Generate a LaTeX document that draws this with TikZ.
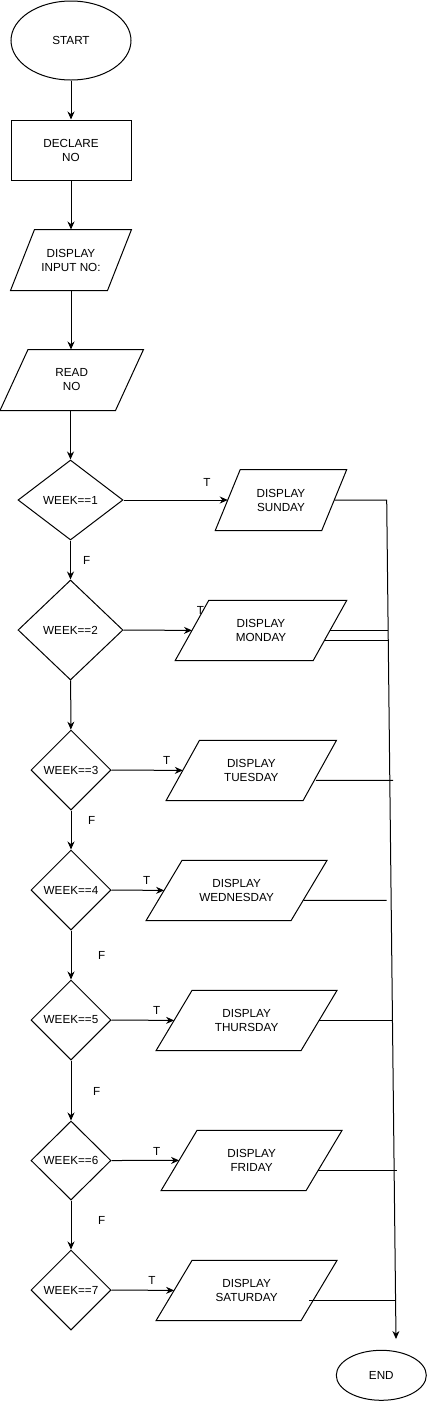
\documentclass[tikz,border=0pt]{standalone}
\usepackage{fontspec}
\setmainfont{Liberation Sans}
\usetikzlibrary{shapes.geometric,arrows.meta}
\newcommand\iobox[2]{\draw ([xshift=-#2pt]#1.south west) -- ([xshift=#2pt]#1.north west) -- ([xshift=#2pt]#1.north east) -- ([xshift=-#2pt]#1.south east) -- cycle;}
\begin{document}
\begin{tikzpicture}[x=1pt,y=-1pt,line width=1pt,
  every node/.style={font=\fontsize{11.7}{14}\selectfont, align=center},
  term/.style={draw, ellipse, inner sep=0pt},
  box/.style={draw, rectangle, inner sep=0pt, minimum width=120pt, minimum height=60pt},
  io/.style={rectangle, inner sep=0pt, minimum height=60pt},
  dec/.style={draw, diamond, inner sep=0pt},
  arr/.style={-{Stealth[length=8pt,width=7pt]}},
  lbl/.style={inner sep=0pt}]
\useasboundingbox (0,0) rectangle (428,1401);

% nodes
\node[term, minimum width=120pt, minimum height=79pt] (start) at (71,40.5) {START};
\node[box] (decl) at (71,150) {DECLARE\\NO};
\node[io, minimum width=96pt] (inp) at (71,260) {DISPLAY\\INPUT NO:};
\node[io, minimum width=114.5pt] (read) at (71.75,380) {READ\\NO};

\node[dec, minimum width=105pt, minimum height=80pt] (d1) at (70.5,500) {WEEK==1};
\node[dec, minimum width=105pt, minimum height=100pt] (d2) at (70.5,630) {WEEK==2};
\node[dec, minimum width=80pt, minimum height=80pt] (d3) at (71,770) {WEEK==3};
\node[dec, minimum width=80pt, minimum height=80pt] (d4) at (71,890) {WEEK==4};
\node[dec, minimum width=80pt, minimum height=80pt] (d5) at (71,1020) {WEEK==5};
\node[dec, minimum width=80pt, minimum height=79pt] (d6) at (71,1160.5) {WEEK==6};
\node[dec, minimum width=80pt, minimum height=80pt] (d7) at (71,1290) {WEEK==7};

\node[io, minimum width=105.5pt] (sun) at (281,500) {DISPLAY\\SUNDAY};
\node[io, minimum width=137pt, minimum height=59.3pt] (mon) at (261,630.4) {DISPLAY\\MONDAY};
\node[io, minimum width=136pt, minimum height=59.3pt] (tue) at (251.3,770.4) {DISPLAY\\TUESDAY};
\node[io, minimum width=144pt, minimum height=59.3pt] (wed) at (236.6,890.4) {DISPLAY\\WEDNESDAY};
\node[io, minimum width=144pt, minimum height=59.3pt] (thu) at (246.6,1020.4) {DISPLAY\\THURSDAY};
\node[io, minimum width=144pt, minimum height=59.3pt] (fri) at (251.6,1160.4) {DISPLAY\\FRIDAY};
\node[io, minimum width=144pt, minimum height=59.3pt] (sat) at (246.6,1290.4) {DISPLAY\\SATURDAY};

\node[term, minimum width=90pt, minimum height=50pt] (end) at (381.3,1375.3) {END};

% parallelogram outlines
\iobox{inp}{12}
\iobox{read}{14}
\iobox{sun}{12.5}
\iobox{mon}{16.8}
\iobox{tue}{16.7}
\iobox{wed}{18}
\iobox{thu}{18}
\iobox{fri}{18}
\iobox{sat}{18}

% main column
\draw[arr] (start) -- (decl);
\draw[arr] (decl) -- (inp);
\draw[arr] (inp.south) -- (inp.south |- read.north);
\draw[arr] (read.south -| d1.north) -- (d1.north);
\draw[arr] (d1) -- (d2);
\draw[arr] (d2) -- (d3);
\draw[arr] (d3) -- (d4);
\draw[arr] (d4) -- (d5);
\draw[arr] (d5) -- (d6);
\draw[arr] (d6) -- (d7);

% true branches
\draw[arr] (d1.east) -- (sun.west);
\draw[arr] (d2.east) -- (mon.west);
\draw[arr] (d3.east) -- (tue.west);
\draw[arr] (d4.east) -- (wed.west);
\draw[arr] (d5.east) -- (thu.west);
\draw[arr] (d6.east) -- (fri.west);
\draw[arr] (d7.east) -- (sat.west);

% collector line
\coordinate (vtop) at (386.7,500);
\coordinate (vbot) at (396,1339);
\draw[arr] (sun.east) -- (vtop) -- (vbot);
\coordinate (m1) at (387.5,630.4);
\coordinate (m2) at (387.5,640.7);
\coordinate (tu) at (393,780.3);
\coordinate (we) at (386.7,900.3);
\coordinate (th) at (392.7,1020.4);
\coordinate (fr) at (396.7,1170.7);
\coordinate (sa) at (396,1300.4);
\draw (mon.east) -- (m1);
\draw ([xshift=-5.8pt,yshift=-10.3pt]mon.east) -- (m2);
\draw ([xshift=-4pt,yshift=-9.9pt]tue.east) -- (tu);
\draw ([xshift=-5.5pt,yshift=-9.9pt]wed.east) -- (we);
\draw (thu.east) -- (th);
\draw ([xshift=-6.5pt,yshift=-10.3pt]fri.east) -- (fr);
\draw ([xshift=-10pt,yshift=-10pt]sat.east) -- (sa);

% labels
\node[lbl] (t1) at (207,482) {T};
\node[lbl] (t2) at (200.5,610) {T};
\node[lbl] (t3) at (166.7,760) {T};
\node[lbl] (t4) at (146.7,880) {T};
\node[lbl] (t5) at (156.7,1010) {T};
\node[lbl] (t6) at (156.7,1151) {T};
\node[lbl] (t7) at (152,1280) {T};
\node[lbl] (f1) at (86.7,560) {F};
\node[lbl] (f2) at (91.7,820) {F};
\node[lbl] (f3) at (101.7,955) {F};
\node[lbl] (f4) at (96.7,1091) {F};
\node[lbl] (f5) at (101.7,1220) {F};
\end{tikzpicture}
\end{document}
